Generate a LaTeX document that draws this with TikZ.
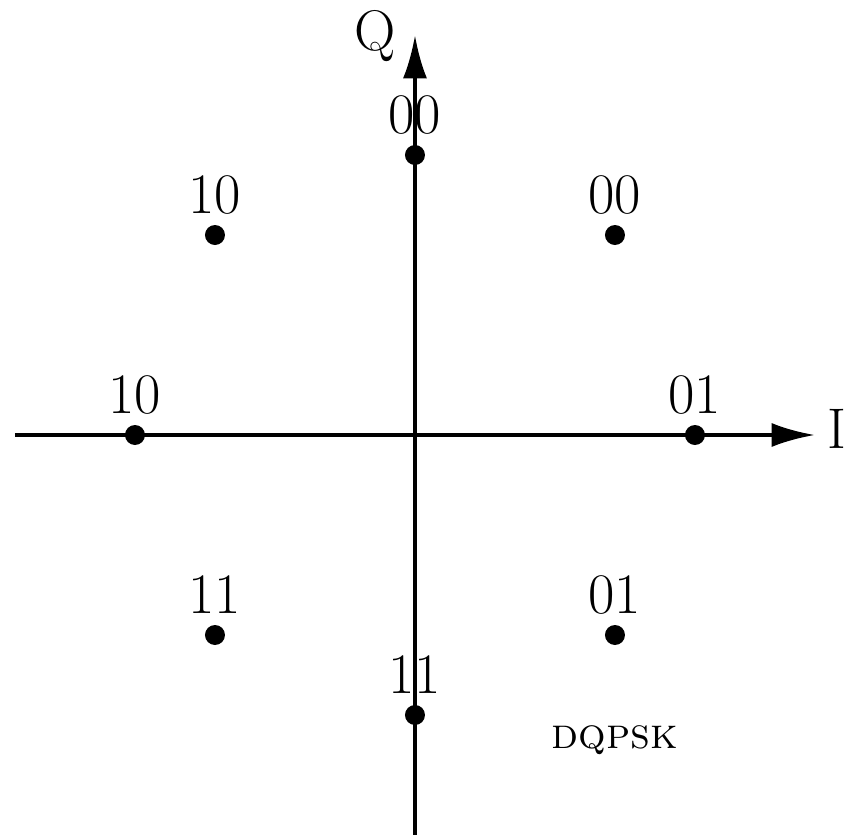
\documentclass[tikz,border=0pt]{standalone}
\usepackage{tikz}
\usetikzlibrary{arrows.meta,positioning}
\begin{document}
\begin{tikzpicture}[x=0.3pt,y=0.3pt]

\tikzset{
  axis/.style = {-{Latex[length=13pt,width=7.2pt]}, line width=1.2pt},
  sym/.style  = {circle, fill=black, inner sep=0pt, minimum size=6pt},
  bits/.style = {font=\fontsize{17.2}{20}\selectfont, inner sep=0pt, anchor=base},
  ax/.style   = {font=\fontsize{17.2}{20}\selectfont, inner sep=0pt, anchor=base},
  tag/.style  = {font=\fontsize{13}{15}\selectfont\scshape, inner sep=0pt},
}

\useasboundingbox (-415,-400) rectangle (430,435);

\coordinate (w) at (-400,0);
\coordinate (e) at (400,0);
\coordinate (s) at (0,-400);
\coordinate (n) at (0,400);
\draw[axis] (w) -- (e);
\draw[axis] (s) -- (n);
\node[ax] (lI) at (422,-13) {I};
\node[ax] (lQ) at (-40,385) {Q};

% pi/4 shifted constellation
\node[sym] (p0) at (0,280) {};
\node[bits] (b0) at (0,302) {00};
\node[sym] (p1) at (200,200) {};
\node[bits] (b1) at (200,222) {00};
\node[sym] (p2) at (-200,200) {};
\node[bits] (b2) at (-200,222) {10};
\node[sym] (p3) at (-280,0) {};
\node[bits] (b3) at (-280,22) {10};
\node[sym] (p4) at (280,0) {};
\node[bits] (b4) at (280,22) {01};
\node[sym] (p5) at (-200,-200) {};
\node[bits] (b5) at (-200,-178) {11};
\node[sym] (p6) at (200,-200) {};
\node[bits] (b6) at (200,-178) {01};
\node[sym] (p7) at (0,-280) {};
\node[bits] (b7) at (0,-258) {11};

\node[tag] (name) at (200,-305) {dqpsk};
\end{tikzpicture}
\end{document}
